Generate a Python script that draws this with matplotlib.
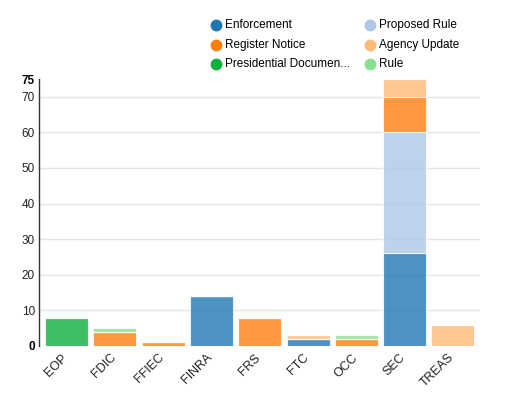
import matplotlib
matplotlib.use("Agg")
import matplotlib.pyplot as plt
import matplotlib.transforms as mtransforms
from matplotlib.lines import Line2D
import numpy as np

plt.rcParams['font.family'] = ['Liberation Sans', 'DejaVu Sans']

categories = ["EOP", "FDIC", "FFIEC", "FINRA", "FRS", "FTC", "OCC", "SEC", "TREAS"]
series_names = ["Enforcement", "Proposed Rule", "Register Notice", "Agency Update",
                "Presidential Document", "Rule"]
legend_labels = ["Enforcement", "Proposed Rule", "Register Notice", "Agency Update",
                 "Presidential Documen...", "Rule"]
enforcement = [0, 0, 0, 14, 0, 2, 0, 26, 0]
proposed_rule = [0, 0, 0, 0, 0, 0, 0, 34, 0]
register_notice = [0, 4, 1, 0, 8, 0, 2, 10, 0]
agency_update = [0, 0, 0, 0, 0, 1, 0, 5, 6]
presidential = [8, 0, 0, 0, 0, 0, 0, 0, 0]
rule = [0, 1, 0, 0, 0, 0, 1, 0, 0]
series = [enforcement, proposed_rule, register_notice, agency_update, presidential, rule]
colors = ["#1f77b4", "#aec7e8", "#ff7f0e", "#ffbb78", "#0fb03c", "#86e08f"]

W, H = 512, 399
fig = plt.figure(figsize=(W / 100, H / 100), dpi=100)
ax = fig.add_axes([39 / W, 1 - 346 / H, 441 / W, (346 - 79) / H])

x = np.arange(len(categories))
bottom = np.zeros(len(categories))
for vals, c in zip(series, colors):
    v = np.array(vals, dtype=float)
    ax.bar(x, v, bottom=bottom, width=0.89, color=c, alpha=0.8,
           edgecolor="white", linewidth=0.8, zorder=3)
    bottom += v

ax.set_xlim(-0.57, 8.56)
ax.set_ylim(0, 75)
ticks = [0, 10, 20, 30, 40, 50, 60, 70, 75]
ax.set_yticks(ticks)
ax.set_yticklabels([str(t) for t in ticks])
for lbl, t in zip(ax.get_yticklabels(), ticks):
    lbl.set_fontsize(8.5)
    lbl.set_color("#222222")
    if t in (0, 75):
        lbl.set_fontweight("bold")
        lbl.set_color("#000000")
ax.tick_params(axis='y', length=0, pad=3)
ax.set_xticks(x)
ax.set_xticklabels(categories, rotation=45, ha="right", va="top",
                   rotation_mode="anchor", fontsize=9, color="#222222")
ax.tick_params(axis='x', length=0, pad=4)
offset = mtransforms.ScaledTranslation(-0.05, 0, fig.dpi_scale_trans)
for lbl in ax.get_xticklabels():
    lbl.set_transform(lbl.get_transform() + offset)

for t in [0, 10, 20, 30, 40, 50, 60, 70]:
    ax.axhline(t, color="#e5e5e5", linewidth=1, zorder=1)

for s in ["top", "right", "bottom"]:
    ax.spines[s].set_visible(False)
ax.spines["left"].set_color("#333333")
ax.spines["left"].set_linewidth(1)

# legend
col_x = [216, 370]
row_y = [25, 45, 64]
for i, (lab, c) in enumerate(zip(legend_labels, colors)):
    cx = col_x[i % 2]
    cy = row_y[i // 2]
    fig.add_artist(Line2D([cx / W], [1 - cy / H], marker="o", markersize=7.5,
                          color=c, linestyle="None", transform=fig.transFigure))
    fig.text((cx + 9) / W, 1 - cy / H, lab, fontsize=8.5, va="center", ha="left",
             color="#000000")

fig.savefig("out.png", dpi=100)
